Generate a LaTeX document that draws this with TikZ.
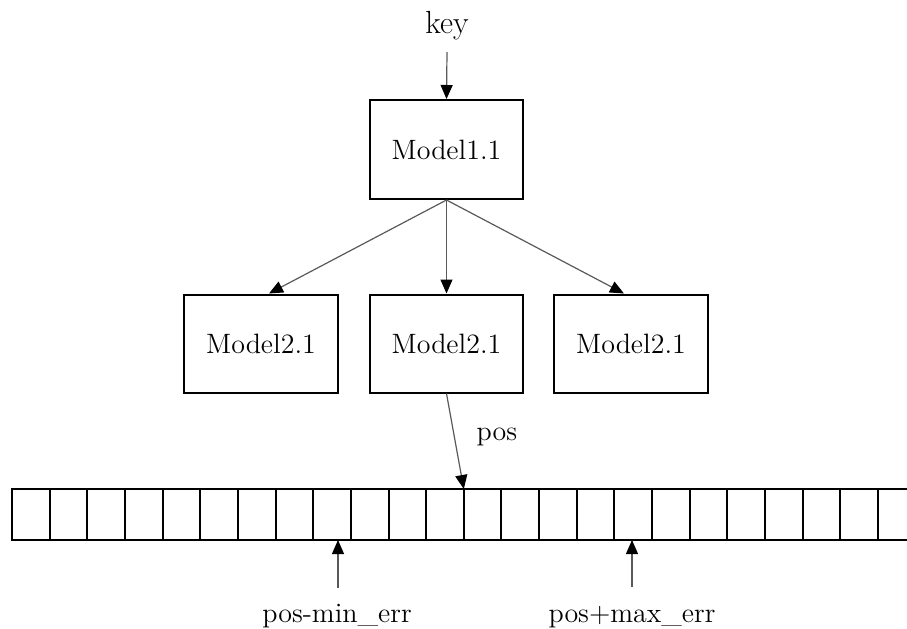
\documentclass[tikz,border=0pt]{standalone}
\usetikzlibrary{arrows.meta,calc}
\tikzset{
  modelbox/.style={draw=black,line width=1pt,rectangle,inner sep=0pt,minimum width=77pt,minimum height=49pt,font=\fontsize{14}{16}\selectfont},
  cellbox/.style={draw=black,line width=1pt,rectangle,inner sep=0pt,outer sep=0pt,minimum width=18.825pt,minimum height=25.5pt},
  arr/.style={draw=black!65,line width=0.6pt,-{Triangle[length=7pt,width=6pt,color=black]}},
  lab/.style={inner sep=0pt,font=\fontsize{14}{16}\selectfont},
}
\begin{document}
\begin{tikzpicture}[x=0.5pt,y=-0.5pt]
\useasboundingbox (0,0) rectangle (907,628);
\clip (0,0) rectangle (907,628);
\node[lab,anchor=base,font=\fontsize{16}{18}\selectfont] (key) at (447,33) {key};
\node[modelbox,minimum width=76.5pt,minimum height=49.5pt] (m11) at (446.5,149.5) {Model1.1};
\node[modelbox] (m21a) at (261,343.5) {Model2.1};
\node[modelbox,minimum width=76.5pt] (m21b) at (446.5,343.5) {Model2.1};
\node[modelbox] (m21c) at (631,343.5) {Model2.1};
\foreach \i in {0,...,23} {
  \node[cellbox] (c\i) at ({12+37.65*(\i+0.5)},514.5) {};
}
\node[lab,anchor=base] (pos) at (497,440) {pos};
\node[lab,anchor=base] (pmin) at (337,622) {pos-min\_err};
\node[lab,anchor=base] (pmax) at (632,622) {pos+max\_err};
\coordinate (keytail) at (447,52);
\coordinate (pmintail) at (338,588);
\coordinate (pmaxtail) at (632,587);
\draw[arr] (keytail) -- (m11.north);
\draw[arr] (m11.south) -- ($(m21a.north)+(8,0)$);
\draw[arr] (m11.south) -- (m21b.north);
\draw[arr] (m11.south) -- ($(m21c.north)+(-7,0)$);
\draw[arr] (m21b.south) -- (c12.north west);
\draw[arr] (pmintail) -- (pmintail |- c8.south);
\draw[arr] (pmaxtail) -- (pmaxtail |- c16.south);
\end{tikzpicture}
\end{document}
